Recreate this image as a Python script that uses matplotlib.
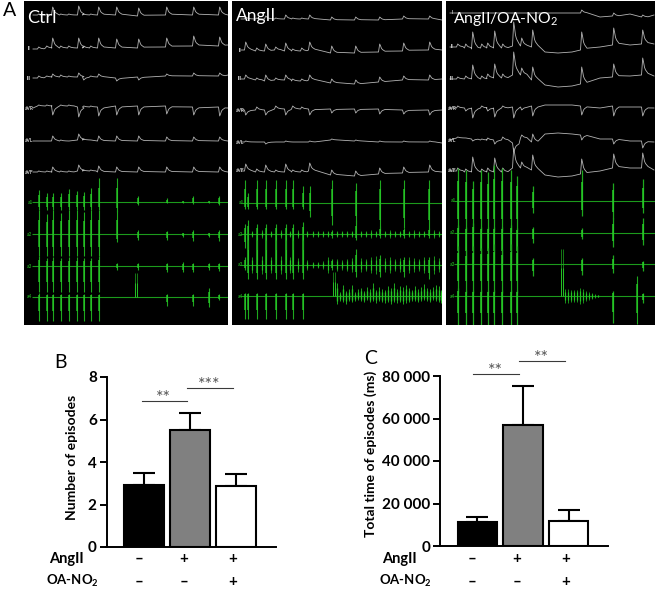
import numpy as np
import matplotlib
matplotlib.use('Agg')
import matplotlib.pyplot as plt

plt.rcParams['font.family'] = ['Lato', 'DejaVu Sans']
plt.rcParams['mathtext.fontset'] = 'custom'
plt.rcParams['mathtext.rm'] = 'Lato'
plt.rcParams['mathtext.bf'] = 'Lato:bold'

# bar charts
episodes = [2.9, 5.5, 2.85]
episodes_top = [3.5, 6.3, 3.45]
total_time = [11500, 57000, 12000]
total_time_top = [13500, 75500, 16800]
bar_colors = ['#000000', '#808080', '#ffffff']
angii_signs = ['–', '+', '+']
oa_signs = ['–', '–', '+']

lead_names = ['I', 'II', 'III', 'aVR', 'aVL', 'aVF']
green_names = ['a1', 'a2', 'a3', 'a4']

ctrl_x = [33, 39, 47, 53, 61, 69, 79, 84, 91, 99, 117, 139, 167, 194, 220, 228]
ctrl_h = [
    [0, 1, 1, 8, 1, 1, 9, 1, 1, 8, 8, 8, 8, 8, 8, 0],
    [0, 2, 2, 10, 2, 2, 10, 2, 2, 10, 9, 9, 9, 10, 9, 0],
    [0, 2, 1, 3, 2, 1, 4, -3, 1, 3, -3, -3, 2, 3, 3, 0],
    [0, 1, 1, -9, 1, 1, -10, 1, 1, -9, -9, -9, -8, -8, -9, 0],
    [0, 0, 0, 5, 1, 0, 6, 1, 0, 5, 5, 5, 4, 4, 4, 0],
    [0, 1, 1, 5, 1, 1, 6, 1, 1, 6, 5, 5, 5, 5, 5, 0],
]
ctrl_base = [
    [15, 15, 15, 15, 15, 15, 15, 15, 15, 15, 15, 16, 15, 15, 15, 15],
    [49, 49, 48, 48, 48, 48, 48, 48, 48, 48, 48, 48, 47, 46, 46, 45],
    [78, 78, 77, 77, 77, 77, 77, 77, 77, 77, 78, 77, 76, 76, 76, 75],
    [108, 106, 106, 106, 106, 106, 107, 107, 107, 107, 106, 106, 106, 107, 107, 108],
    [141, 141, 141, 141, 141, 141, 140, 140, 140, 141, 141, 141, 141, 141, 141, 141],
    [172, 172, 172, 172, 172, 172, 171, 171, 171, 172, 172, 172, 172, 172, 172, 172],
]

ang_x = [241, 246, 257, 266, 276, 286, 293, 302, 310, 332, 356, 380, 404, 430, 442]
ang_h = [
    [0, 2, 1, 3, 1, 4, 1, 1, 4, 3, 3, 3, 3, 3, 0],
    [0, 8, 3, 7, 3, 8, 2, 3, 8, 7, 7, 8, 8, 8, 0],
    [0, 4, 2, 6, 2, 5, 2, 2, 5, 4, 4, 5, 4, 5, 0],
    [0, -5, 3, -5, 3, -6, 3, 2, -6, -4, -4, -5, -4, -5, 0],
    [0, 1, 0, -2, 0, 1, 0, 0, 1, 1, 1, 1, 1, 1, 0],
    [0, 7, 3, 7, 2, 8, 2, 2, 8, 5, 5, 6, 6, 7, 0],
]
ang_base = [
    [19, 19, 19, 19, 19, 19, 19, 19, 19, 20, 20, 20, 19, 19, 20],
    [50, 50, 51, 51, 50, 51, 51, 51, 50, 53, 53, 52, 51, 50, 50],
    [79, 79, 80, 81, 80, 80, 81, 81, 80, 83, 84, 82, 80, 80, 79],
    [110, 110, 110, 110, 109, 109, 109, 109, 109, 109, 109, 109, 110, 110, 110],
    [142, 142, 142, 142, 142, 142, 142, 142, 142, 140, 141, 142, 142, 142, 143],
    [171, 171, 172, 172, 172, 172, 172, 172, 171, 175, 176, 174, 173, 172, 172],
]

oa_x = [450, 458, 466, 473, 482, 488, 495, 503, 514, 522, 533, 545, 558, 572, 582, 600, 614, 630, 643, 654]
oa_h = [
    [0, 0, 0, 0, 0, 0, 0, 0, 0, 0, 0, 0, 0, 0, 3, 0, 3, 0, 2, 0],
    [0, 3, 4, 17, 4, 5, 17, 4, 24, 8, 17, 0, 0, 0, 18, 0, 17, 0, 14, 0],
    [0, 2, 3, 14, 3, 4, 14, 4, 23, 7, 13, 0, 0, 0, 17, 0, 13, 0, 17, 0],
    [0, 2, -3, -10, 2, -3, -9, 2, -11, -3, -10, 0, 0, 0, -9, 0, -10, 0, -9, 0],
    [0, 1, 0, -2, 1, 2, -4, 3, -9, 3, 8, 0, 0, 0, -5, 0, -5, 0, -7, 0],
    [0, 3, 3, 15, 3, 4, 14, 4, 20, 6, 15, 0, 0, 0, 15, 0, 14, 0, 15, 0],
]
oa_base = [
    [13, 13, 13, 13, 13, 13, 13, 13, 13, 13, 13, 13, 13, 13, 13, 17, 16, 14, 17, 15],
    [47, 47, 48, 49, 48, 48, 48, 48, 46, 46, 47, 52, 53, 52, 50, 47, 45, 45, 44, 44],
    [79, 79, 79, 79, 79, 78, 78, 78, 75, 75, 80, 85, 87, 86, 84, 78, 77, 76, 75, 76],
    [108, 108, 108, 108, 108, 108, 108, 108, 107, 107, 106, 105, 105, 105, 106, 108, 106, 107, 107, 108],
    [140, 138, 138, 139, 140, 140, 140, 140, 143, 138, 142, 134, 133, 134, 135, 139, 139, 141, 141, 142],
    [171, 171, 172, 172, 172, 172, 172, 172, 168, 168, 170, 175, 177, 176, 174, 171, 168, 168, 168, 170],
]

# green channels: spike x with reach above and below each channel baseline
ctrl_sx = [39, 47, 53, 61, 69, 77, 84, 91, 99, 117, 138, 167, 183, 193, 209, 219]
ctrl_a1 = ([12, 9, 9, 9, 13, 11, 10, 14, 24, 24, 6, 4, 1, 6, 1, 6], [8, 8, 8, 8, 8, 8, 8, 8, 8, 10, 3, 1, 1, 2, 1, 3])
ctrl_a2 = ([24, 20, 24, 21, 24, 24, 22, 24, 24, 24, 4, 3, 1, 4, 1, 4], [22, 22, 22, 22, 22, 22, 22, 22, 22, 8, 6, 6, 3, 7, 3, 7])
ctrl_a3 = ([10, 8, 9, 8, 9, 9, 8, 8, 10, 3, 3, 3, 4, 3, 3, 3], [26, 26, 26, 26, 26, 26, 26, 26, 26, 4, 4, 6, 6, 6, 4, 5])
ctrl_a4 = ([4, 3, 3, 3, 3, 3, 3, 3, 3, 0, 0, 3, 0, 3, 9, 3], [24, 24, 24, 24, 24, 24, 24, 24, 24, 0, 0, 9, 0, 9, 10, 3])
ctrl_step = [135, 137]
ctrl_step_up = [24, 24]

ang_sx = [245, 248, 257, 266, 276, 286, 293, 303, 310, 332, 356, 380, 404, 429]
ang_a1 = ([23, 10, 23, 23, 23, 23, 23, 17, 17, 23, 20, 23, 23, 23], [6, 6, 6, 6, 6, 6, 6, 6, 14, 22, 22, 28, 25, 28])
ang_a2 = ([10, 14, 10, 10, 10, 10, 10, 12, 0, 4, 14, 8, 6, 6], [14, 26, 26, 26, 26, 26, 26, 26, 0, 4, 6, 4, 4, 4])
ang_a3 = ([8, 25, 25, 25, 25, 25, 25, 25, 0, 6, 16, 10, 8, 8], [5, 14, 14, 14, 14, 14, 14, 14, 0, 5, 12, 12, 12, 14])
ang_a4 = ([3, 3, 3, 3, 3, 3, 3, 3, 0, 0, 0, 0, 0, 0], [23, 23, 23, 23, 23, 23, 23, 23, 0, 0, 0, 0, 0, 0])
ang_noise2 = [252, 262, 271, 281, 290, 298, 307, 313, 318, 323, 328, 337, 342, 347, 352, 361, 366, 371, 376, 385, 390, 395, 400, 409, 414, 419, 424, 434, 439]
ang_noise2_h = [3, 4, 3, 4, 3, 4, 3, 3, 3, 3, 3, 3, 3, 3, 3, 3, 3, 4, 3, 3, 4, 3, 3, 3, 4, 3, 3, 4, 3]
ang_noise3 = [252, 262, 271, 281, 290, 298, 307, 313, 318, 323, 328, 337, 342, 347, 352, 361, 366, 371, 376, 385, 390, 395, 400, 409, 414, 419, 424, 434, 439]
ang_noise3_h = [8, 9, 8, 9, 8, 7, 5, 3, 3, 4, 8, 6, 5, 6, 7, 7, 6, 8, 9, 7, 8, 6, 7, 8, 7, 6, 8, 9, 7]
ang_step = [333, 335]
ang_step_up = [24, 24]
ang_noise4 = [337, 340, 343, 346, 349, 352, 355, 358, 361, 364, 367, 370, 373, 376, 379, 382, 385, 388, 391, 394, 397, 400, 403, 406, 409, 412, 415, 418, 421, 424, 427, 430, 433, 436, 439, 441]
ang_noise4_up = [13, 4, 11, 5, 7, 11, 4, 7, 8, 5, 9, 7, 13, 6, 9, 7, 6, 10, 8, 13, 7, 10, 9, 11, 8, 6, 10, 7, 9, 12, 8, 7, 9, 11, 10, 6]
ang_noise4_dn = [8, 5, 6, 8, 5, 6, 5, 4, 5, 6, 4, 6, 5, 7, 5, 6, 7, 6, 8, 6, 7, 6, 8, 7, 6, 5, 5, 6, 5, 4, 5, 6, 4, 5, 6, 7]

oa_sx = [458, 466, 473, 481, 488, 494, 502, 511, 517, 533, 582, 613, 643]
oa_a1 = ([33, 31, 20, 31, 29, 36, 33, 31, 25, 15, 31, 18, 22], [30, 30, 30, 30, 30, 30, 30, 30, 30, 12, 15, 18, 12])
oa_a2 = ([8, 6, 10, 6, 6, 6, 6, 8, 5, 6, 5, 15, 15], [30, 30, 30, 30, 30, 30, 30, 30, 30, 10, 6, 14, 12])
oa_a3 = ([18, 14, 18, 16, 16, 20, 15, 20, 18, 6, 6, 9, 3], [29, 29, 29, 29, 29, 29, 29, 29, 29, 12, 11, 9, 7])
oa_a4 = ([8, 6, 6, 6, 6, 6, 6, 6, 6, 0, 0, 5, 3], [29, 29, 29, 29, 29, 29, 29, 29, 29, 0, 0, 27, 7])
oa_step = [561, 563]
oa_step_up = [47, 47]
oa_decay = [565, 568, 571, 574, 577, 580, 583, 586, 589, 592, 595, 598]
oa_decay_h = [7, 7, 6, 6, 6, 8, 7, 5, 4, 3, 2, 1]
oa_extra = [637]
oa_extra_up = [20]
oa_extra_dn = [28]

W, H = 656, 590
fig = plt.figure(figsize=(W / 100, H / 100), dpi=100, facecolor='white')


def px_axes(x0, y0, x1, y1):
    return fig.add_axes([x0 / W, 1 - y1 / H, (x1 - x0) / W, (y1 - y0) / H])


def draw_lead(ax, xs, hs, bases):
    # fixed beat outline around every read peak
    lx, ly = [], []
    for x, h, b in zip(xs, hs, bases):
        if h == 0:
            lx.append(x)
            ly.append(b)
        else:
            lx += [x - 1.5, x - 0.3, x + 0.6, x + 1.5, x + 2.5, x + 5]
            ly += [b, b - h, b - 0.75 * h, b - 0.45 * h, b - 0.3 * h, b - 0.1 * h]
    ax.plot(lx, ly, color='#b4b4b4', lw=0.6, solid_joinstyle='round')


def spikes(ax, xs, base, up, down, lw=0.8):
    # dim tips, brighter towards the channel baseline
    xs = np.asarray(xs)
    up = np.asarray(up)
    down = np.asarray(down)
    ax.vlines(xs, base - up, base + down, color='#1ea81e', lw=lw)
    ax.vlines(xs, base - 0.6 * up, base + 0.6 * down, color='#28d028', lw=lw * 1.5, alpha=0.8)


panels = [(24, 228), (232, 442), (446, 655)]
all_x = [ctrl_x, ang_x, oa_x]
all_h = [ctrl_h, ang_h, oa_h]
all_b = [ctrl_base, ang_base, oa_base]
label_x = [29, 240, 452]
green_bases = [[202, 234, 266, 297], [203, 234, 265, 296], [201, 233, 264, 296]]
panel_axes = []
for i, (x0, x1) in enumerate(panels):
    ax = px_axes(x0, 1, x1, 325)
    ax.set_xlim(x0, x1)
    ax.set_ylim(325, 1)
    ax.set_facecolor('black')
    ax.set_xticks([])
    ax.set_yticks([])
    for s in ax.spines.values():
        s.set_visible(False)
    for j in range(6):
        draw_lead(ax, all_x[i], all_h[i][j], all_b[i][j])
        if j > 0 or i == 2:
            ax.text(label_x[i], all_b[i][j][0], lead_names[j], color='#d0d0d0', fontsize=3.5,
                    fontweight='bold', ha='center', va='center')
    for j in range(4):
        base = green_bases[i][j]
        ax.hlines(base, x0 + 8, x1, color='#1c9a1c', lw=0.8)
        ax.text(label_x[i] + 1, base, green_names[j], color='#1c9a1c', fontsize=3.5,
                fontweight='bold', ha='center', va='center')
    panel_axes.append(ax)

ax1, ax2, ax3 = panel_axes
for base, (up, dn) in zip(green_bases[0], [ctrl_a1, ctrl_a2, ctrl_a3, ctrl_a4]):
    spikes(ax1, ctrl_sx, base, up, dn)
spikes(ax1, ctrl_step, green_bases[0][3], ctrl_step_up, [0, 0], lw=0.5)

for base, (up, dn) in zip(green_bases[1], [ang_a1, ang_a2, ang_a3, ang_a4]):
    spikes(ax2, ang_sx, base, up, dn)
spikes(ax2, ang_noise2, green_bases[1][1], ang_noise2_h, ang_noise2_h, lw=0.6)
spikes(ax2, ang_noise3, green_bases[1][2], ang_noise3_h, ang_noise3_h, lw=0.6)
spikes(ax2, ang_step, green_bases[1][3], ang_step_up, [0, 0], lw=0.5)
spikes(ax2, ang_noise4, green_bases[1][3], ang_noise4_up, ang_noise4_dn, lw=0.7)

for base, (up, dn) in zip(green_bases[2], [oa_a1, oa_a2, oa_a3, oa_a4]):
    spikes(ax3, oa_sx, base, up, dn, lw=0.9)
spikes(ax3, oa_step, green_bases[2][3], oa_step_up, [0, 0], lw=0.5)
spikes(ax3, oa_decay, green_bases[2][3], oa_decay_h, oa_decay_h, lw=0.6)
spikes(ax3, oa_extra, green_bases[2][3], oa_extra_up, oa_extra_dn)


def bar_panel(box, values, tops, yticks, ticklabels, ymax, ylabel, label_px, label_frac):
    ax = px_axes(*box)
    pos = np.arange(3)
    ax.bar(pos, values, width=0.85, color=bar_colors, edgecolor='black', linewidth=1.5, zorder=3)
    ax.errorbar(pos, values, yerr=[np.zeros(3), np.array(tops) - np.array(values)], fmt='none',
                ecolor='black', elinewidth=1.5, capsize=8, capthick=1.5, zorder=2)
    ax.set_ylim(0, ymax)
    ax.set_yticks(yticks)
    ax.set_yticklabels(ticklabels, fontsize=11, fontweight='bold')
    ax.set_xticks([])
    ax.spines['top'].set_visible(False)
    ax.spines['right'].set_visible(False)
    ax.spines['left'].set_linewidth(1.4)
    ax.spines['bottom'].set_linewidth(1.4)
    ax.tick_params(axis='y', width=1.4, length=5, pad=2)
    ax.set_ylabel(ylabel, fontsize=10, fontweight='bold', va='center')
    ax.yaxis.set_label_coords((label_px - box[0]) / (box[2] - box[0]), label_frac)
    return ax


ax_b = bar_panel((106.5, 377, 276, 547), episodes, episodes_top, [0, 2, 4, 6, 8],
                 ['0', '2', '4', '6', '8'], 8, 'Number of episodes', 72, 0.53)
ax_b.set_xlim(-0.815, 2.87)
ax_c = bar_panel((440, 376, 608, 546), total_time, total_time_top, [0, 20000, 40000, 60000, 80000],
                 ['0', '20 000', '40 000', '60 000', '80 000'], 80000, 'Total time of episodes (ms)', 371, 0.54)
ax_c.set_xlim(-0.806, 2.85)

# pixel overlay for the free text and significance bars
ov = fig.add_axes([0, 0, 1, 1], facecolor='none')
ov.set_xlim(0, W)
ov.set_ylim(H, 0)
ov.axis('off')

ov.text(3, 10, 'A', fontsize=14, ha='left', va='center')
ov.text(54, 362, 'B', fontsize=14, ha='left', va='center')
ov.text(364, 359, 'C', fontsize=14, ha='left', va='center')
ov.text(27, 18, 'Ctrl', fontsize=13, color='white', ha='left', va='center')
ov.text(236, 16, 'AngII', fontsize=12.5, color='white', ha='left', va='center')
ov.text(453, 19, 'AngII/OA-NO$_{\\mathrm{2}}$', fontsize=11.3, color='white', ha='left', va='center')

row_sets = [([139, 184, 233], 49, 46), ([472, 517, 566], 382, 379)]
for xs, lx1, lx2 in row_sets:
    ov.text(lx1, 559, 'AngII', fontsize=10.5, fontweight='bold', ha='left', va='center')
    ov.text(lx2, 581, 'OA-NO$_{\\mathbf{2}}$', fontsize=9.5, fontweight='bold', ha='left', va='center')
    for x, a, o in zip(xs, angii_signs, oa_signs):
        ov.text(x, 559, a, fontsize=11, fontweight='bold', ha='center', va='center')
        ov.text(x, 582, o, fontsize=11, fontweight='bold', ha='center', va='center')

sig = [(142, 187, 401, '**'), (187, 233, 388, '***'), (473, 519, 374, '**'), (519, 565, 361, '**')]
for x0, x1, y, s in sig:
    ov.plot([x0, x1], [y, y], color='#3a3a3a', lw=0.8)
    ov.text((x0 + x1) / 2 - 1, y - 3, s, fontsize=13, color='#555555', ha='center', va='center')

fig.savefig('out.png', dpi=100)
